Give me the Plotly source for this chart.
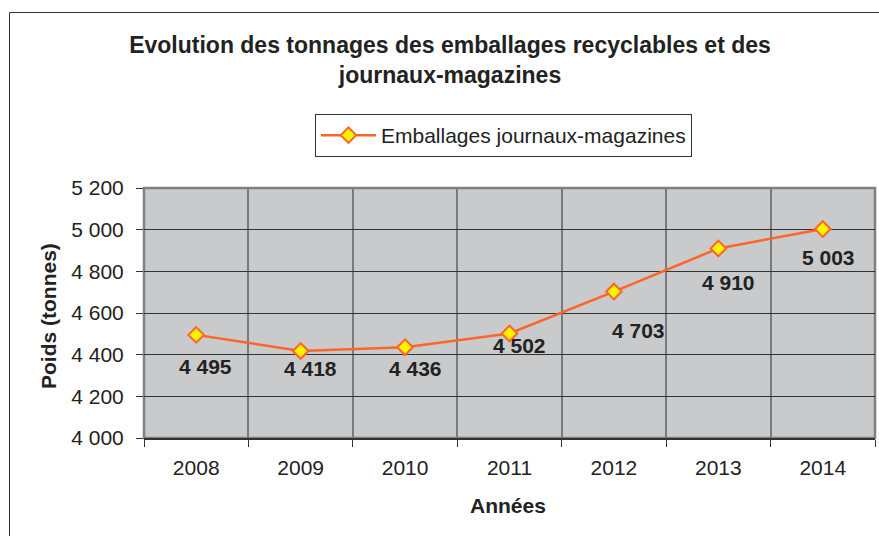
import plotly.graph_objects as go

years = ["2008", "2009", "2010", "2011", "2012", "2013", "2014"]
tonnages = [4495, 4418, 4436, 4502, 4703, 4910, 5003]
y_ticks = [4000, 4200, 4400, 4600, 4800, 5000, 5200]
y_tick_labels = ["4 000", "4 200", "4 400", "4 600", "4 800", "5 000", "5 200"]
series_name = "Emballages journaux-magazines"
title_text = "Evolution des tonnages des emballages recyclables et des<br>journaux-magazines"
x_title = "Années"
y_title = "Poids (tonnes)"

# label offsets (pixels) relative to each point
label_dx = [9, 10, 10, 10, 25, 10, 6]
label_dy = [-32, -18, -21, -12, -39, -34, -28]

FONT = "Liberation Sans, Arial, sans-serif"
W, H = 879, 536
L, R, T, B = 144, 4, 188, 98
PW = W - L - R
PH = H - T - B

def px_x(p):
    return (p - L) / PW

def px_y(p):
    return (H - B - p) / PH

fig = go.Figure()
fig.add_trace(go.Scatter(
    x=years, y=tonnages, mode="lines+markers", name=series_name,
    line=dict(color="#FF6428", width=2.5),
    marker=dict(symbol="diamond", size=12, color="#FFF200",
                line=dict(color="#FF6428", width=2)),
    showlegend=True,
))

annotations = []
for i, (v, dx, dy) in enumerate(zip(tonnages, label_dx, label_dy)):
    annotations.append(dict(
        x=i, y=v, xref="x", yref="y", text=f"{v:,}".replace(",", " "),
        showarrow=False, xshift=dx, yshift=dy, xanchor="center", yanchor="middle",
        font=dict(family=FONT, size=21, color="#222222", weight="bold"),
    ))
annotations.append(dict(
    x=px_x(508), y=px_y(505), xref="paper", yref="paper", text=x_title,
    showarrow=False, xanchor="center", yanchor="middle",
    font=dict(family=FONT, size=21, color="#222222", weight="bold"),
))
annotations.append(dict(
    x=px_x(48), y=px_y(316), xref="paper", yref="paper", text=y_title,
    showarrow=False, textangle=-90, xanchor="center", yanchor="middle",
    font=dict(family=FONT, size=21, color="#222222", weight="bold"),
))

shapes = [
    # outer chart frame
    dict(type="rect", xref="paper", yref="paper",
         x0=px_x(9.5), x1=px_x(890), y0=px_y(560), y1=px_y(12.5),
         line=dict(color="#333333", width=1), fillcolor="rgba(0,0,0,0)", layer="above"),
    # plot area border (grey)
    dict(type="rect", xref="paper", yref="paper", x0=0, x1=1, y0=0, y1=1,
         line=dict(color="#808080", width=2.5), fillcolor="rgba(0,0,0,0)", layer="below"),
]

fig.update_layout(
    width=W, height=H,
    margin=dict(l=L, r=R, t=T, b=B, pad=0),
    paper_bgcolor="white", plot_bgcolor="#C9CACB",
    font=dict(family=FONT, size=21, color="#222222"),
    title=dict(text=title_text, x=px_x(450), xref="paper", xanchor="center",
               y=1 - 53 / H, yanchor="middle",
               font=dict(family=FONT, size=23, color="#222222", weight="bold")),
    legend=dict(x=px_x(315), y=px_y(114), xanchor="left", yanchor="top",
                bgcolor="white", bordercolor="#333333", borderwidth=1,
                itemwidth=55, tracegroupgap=0,
                font=dict(family=FONT, size=21, color="#222222")),
    annotations=annotations, shapes=shapes,
    xaxis=dict(type="category", range=[-0.5, 6.5], tickson="boundaries", showgrid=True,
               gridcolor="#7A7A7A", gridwidth=1.5, ticks="outside", ticklen=7,
               tickcolor="#333333", showline=True, linecolor="#333333", linewidth=2,
               tickangle=0, ticklabelstandoff=10, tickfont=dict(size=21, color="#222222"),
               zeroline=False),
    yaxis=dict(range=[4000, 5200], tickvals=y_ticks, ticktext=y_tick_labels,
               showgrid=True, gridcolor="#333333", gridwidth=1, ticks="outside",
               ticklen=7, tickcolor="#333333", showline=False, zeroline=False,
               ticklabelstandoff=8, tickfont=dict(size=21, color="#222222")),
)

fig.write_html("out.html", config={"displayModeBar": False},
               post_script="document.body.style.margin='0';")
